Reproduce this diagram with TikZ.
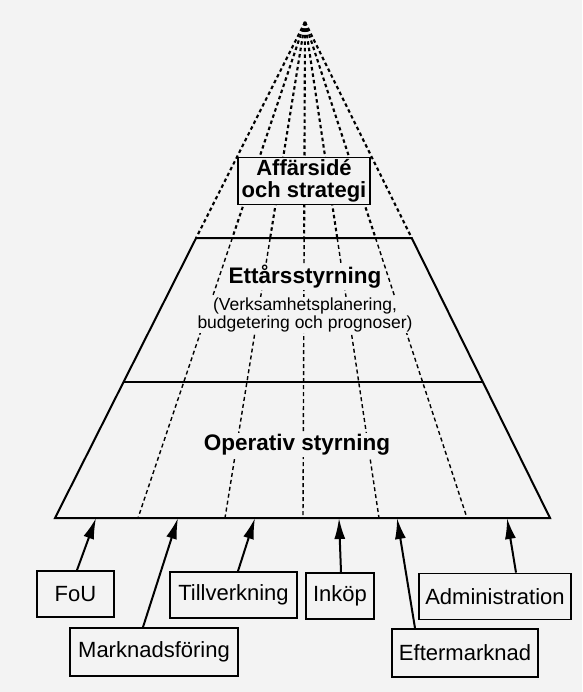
\documentclass[tikz,border=0pt]{standalone}
\usepackage{fontspec}
\setmainfont{Liberation Sans}
\usetikzlibrary{arrows.meta,calc}
\definecolor{paper}{RGB}{243,243,243}
\tikzset{
  pyrpicture/.style={x=1pt, y=-1pt},
  pyredge/.style={line width=2pt},
  pyrsplit/.style={line width=1.4pt, dash pattern=on 4pt off 3pt},
  pyrtop/.style={line width=2.1pt, dash pattern=on 3.5pt off 3pt},
  pyrtitle/.style={font=\fontsize{22.5}{20}\selectfont\bfseries, fill=paper, inner sep=1pt, align=center},
  pyrnote/.style={font=\fontsize{17.5}{18.5}\selectfont, fill=paper, inner sep=1pt, align=center},
  pyrideabox/.style={pyrtitle, font=\fontsize{22}{22.5}\selectfont\bfseries, draw, line width=1.8pt, minimum width=132pt, minimum height=47pt, inner sep=0pt},
  pyrbox/.style={draw, line width=1.8pt, fill=paper, font=\fontsize{22}{24}\selectfont, minimum height=46pt, inner sep=0pt},
  pyrarrow/.style={-{Latex[length=21pt, width=11pt]}, line width=2pt}
}
\begin{document}
\begin{tikzpicture}[pyrpicture]
\useasboundingbox (0,0) rectangle (582,692);
\fill[paper] (0,0) rectangle (582,692);
% pyramid corners and the points where the dividers meet the layer lines
\coordinate (apex) at (305,22);
\foreach \n/\x in {0/55,1/138,2/225,3/303,4/379,5/467,6/550} {
  \coordinate (b\n) at (\x,518);
  \coordinate (t\n) at ($(apex)!0.4355!(b\n)$);
  \coordinate (m\n) at ($(apex)!0.7258!(b\n)$);
}
\foreach \n/\x in {1/96,2/178,3/255,4/339,5/397,6/507}
  \coordinate (in\n) at (\x,518);
\foreach \n in {0,...,6}
  \draw[pyrtop] (apex) -- (t\n);
\foreach \n in {1,...,5}
  \draw[pyrsplit] (t\n) -- (b\n);
\draw[pyredge] (t0) -- (b0) -- (b6) -- (t6) -- cycle;
\draw[pyredge] (m0) -- (m6);
% layer texts
\node[pyrideabox] (idea) at (304,181) {Affärsidé\\och strategi};
\node[pyrtitle] (annual) at (305,277) {Ettårsstyrning};
\node[pyrnote] (annualnote) at (305,315) {(Verksamhetsplanering,\\budgetering och prognoser)};
\node[pyrtitle] (operative) at (297,445) {Operativ styrning};
% departments
\node[pyrbox, minimum width=77pt] (fou) at (75.5,594) {FoU};
\node[pyrbox, minimum width=127pt] (manuf) at (233.5,595) {Tillverkning};
\node[pyrbox, minimum width=68pt] (purch) at (340,596) {Inköp};
\node[pyrbox, minimum width=152pt] (admin) at (495,596.5) {Administration};
\node[pyrbox, minimum width=168pt, minimum height=48pt] (market) at (154,652) {Marknadsföring};
\node[pyrbox, minimum width=146pt, minimum height=48pt] (aftermkt) at (465,653) {Eftermarknad};
\draw[pyrarrow] ([xshift=1.5pt]fou.north) -- (in1);
\draw[pyrarrow] ([xshift=-11pt]market.north) -- (in2);
\draw[pyrarrow] ([xshift=4.5pt]manuf.north) -- (in3);
\draw[pyrarrow] ([xshift=1pt]purch.north) -- (in4);
\draw[pyrarrow] ([xshift=-50pt]aftermkt.north) -- (in5);
\draw[pyrarrow] ([xshift=21pt]admin.north) -- (in6);
\end{tikzpicture}
\end{document}
